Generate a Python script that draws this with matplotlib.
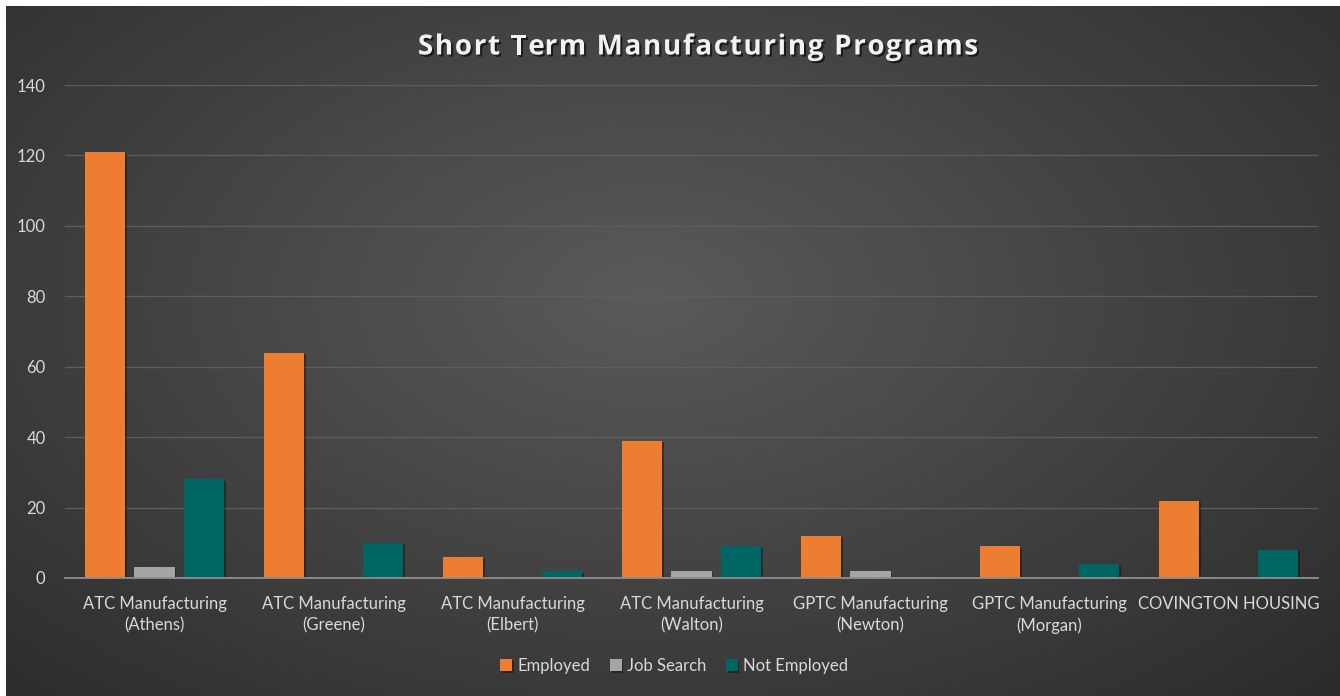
import numpy as np
import matplotlib
matplotlib.use("Agg")
import matplotlib.pyplot as plt
import matplotlib.patheffects as pe
from matplotlib.font_manager import FontProperties

categories = ["ATC Manufacturing\n(Athens)", "ATC Manufacturing\n(Greene)",
              "ATC Manufacturing\n(Elbert)", "ATC Manufacturing\n(Walton)",
              "GPTC Manufacturing\n(Newton)", "GPTC Manufacturing\n(Morgan)",
              "COVINGTON HOUSING"]
employed = [121, 64, 6, 39, 12, 9, 22]
job_search = [3, 0, 0, 2, 2, 0, 0]
not_employed = [28, 10, 2, 9, 0, 4, 8]
series_names = ["Employed", "Job Search", "Not Employed"]
colors = ["#ED7D31", "#A5A5A5", "#006664"]
yticks = [0, 20, 40, 60, 80, 100, 120, 140]
title = "Short Term Manufacturing Programs"

W, H = 1340, 696
fig = plt.figure(figsize=(W / 100, H / 100), dpi=100, facecolor="white")

# gradient background
bg = fig.add_axes([6 / W, 0, 1 - 6 / W, 1 - 6 / H])
bg.set_axis_off()
yy, xx = np.mgrid[0:1:300j, 0:1:600j]
d = np.sqrt(((xx - 0.48) / 0.75) ** 2 + ((yy - 0.42) / 0.85) ** 2)
d = np.clip(d, 0, 1)
c_in = np.array([0x5a, 0x5a, 0x5a]) / 255
c_out = np.array([0x2a, 0x2a, 0x2a]) / 255
img = c_in[None, None, :] * (1 - d[..., None]) + c_out[None, None, :] * d[..., None]
bg.imshow(img, aspect="auto", extent=[0, 1, 0, 1], origin="upper")
bg.set_xlim(0, 1)
bg.set_ylim(0, 1)

ax = fig.add_axes([65 / W, (H - 578) / H, (1318 - 65) / W, (578 - 85) / H])
ax.set_facecolor("none")
ax.set_zorder(2)

x = np.arange(len(categories))
bw = 0.225
off = 0.277
shadow = [pe.SimplePatchShadow(offset=(1.2, -1.2), alpha=0.35, shadow_rgbFace="black"), pe.Normal()]
for i, (vals, c, name) in enumerate(zip([employed, job_search, not_employed], colors, series_names)):
    bars = ax.bar(x + (i - 1) * off, vals, width=bw, color=c, label=name, zorder=3)
    for b in bars:
        b.set_path_effects(shadow)

ax.set_xlim(-0.5, len(categories) - 0.5)
ax.set_ylim(0, 140)
ax.set_yticks(yticks)
ax.grid(axis="y", color="#5e5e5e", linewidth=0.9, zorder=0)
ax.set_axisbelow(True)
for s in ["top", "right", "left"]:
    ax.spines[s].set_visible(False)
ax.spines["bottom"].set_color("#8f8f8f")
ax.spines["bottom"].set_linewidth(1.3)
ax.spines["bottom"].set_zorder(4)
ax.set_xticks(x)
ax.set_xticklabels(categories, fontfamily="Lato", fontsize=12, color="#d9d9d9", linespacing=1.4)
ax.tick_params(axis="x", length=0, pad=13)
ax.tick_params(axis="y", length=0, pad=14, labelcolor="#d9d9d9", labelsize=12)
for t in ax.get_yticklabels():
    t.set_fontfamily("Lato")

# title with letter spacing
renderer = fig.canvas.get_renderer()
prop = FontProperties(family="Open Sans", weight="bold", size=20)
spacing = 1.7  # px
full_w = renderer.get_text_width_height_descent(title, prop, ismath=False)[0]
total = full_w + spacing * (len(title) - 1)
cx = 698
x0 = cx - total / 2
ty = 1 - 47 / H
tshadow = [pe.withSimplePatchShadow(offset=(1.5, -1.5), alpha=0.6, shadow_rgbFace="black")]
for i, ch in enumerate(title):
    if ch == " ":
        continue
    pw = renderer.get_text_width_height_descent(title[:i], prop, ismath=False)[0] if i > 0 else 0
    xi = x0 + pw + spacing * i
    fig.text(xi / W, ty, ch, ha="left", va="center", fontproperties=prop,
             color="#f2f2f2", path_effects=tshadow)

leg = fig.legend(loc="center", bbox_to_anchor=(0.503, 30 / H), ncol=3, frameon=False,
                 prop={"family": "Lato", "size": 12}, labelcolor="#d9d9d9",
                 handlelength=0.7, handleheight=0.7, handletextpad=0.3, columnspacing=1.2)

fig.savefig("out.png", dpi=100, facecolor="white")
